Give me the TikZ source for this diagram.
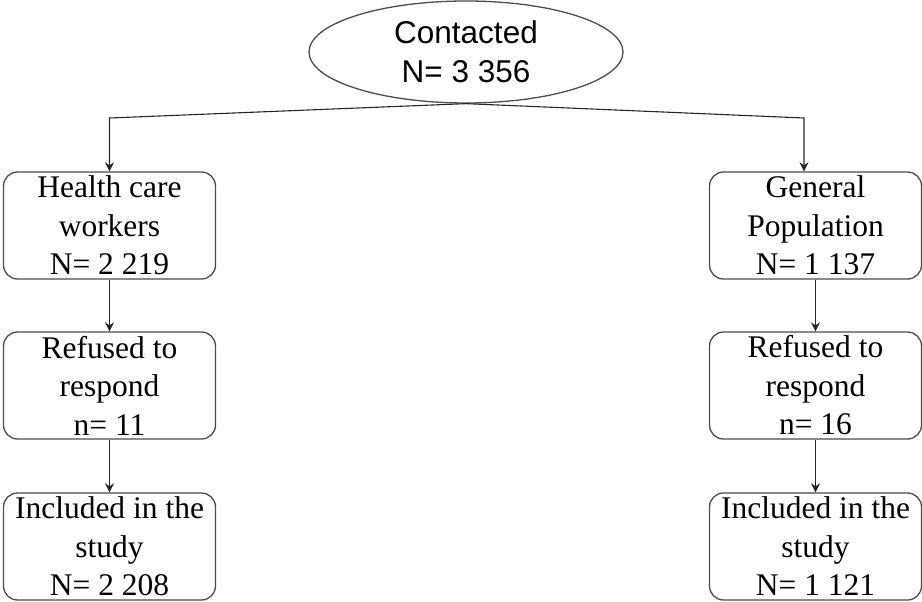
\documentclass[tikz,border=0pt]{standalone}
\usepackage{fontspec}
\setmainfont{Liberation Serif}
\newfontfamily\ellfont{Liberation Sans}
\usetikzlibrary{arrows.meta,shapes.geometric}
\begin{document}
\begin{tikzpicture}[x=1pt,y=-1pt,
  stepbox/.style={draw=black!70, line width=1.3pt, rounded corners=14pt, minimum width=212pt, minimum height=107pt, inner sep=0pt, align=center, font=\fontsize{31.5}{38.5}\selectfont},
  ovalbox/.style={ellipse, draw=black!70, line width=1.3pt, minimum width=314pt, minimum height=102pt, inner sep=0pt, align=center, font=\ellfont\fontsize{31.5}{39}\selectfont},
  conn/.style={draw=black!85, line width=1.1pt, -{Stealth[length=9pt,width=9pt]}}]
\useasboundingbox (0,0) rectangle (922,602);
\node[ovalbox] (con) at (466,52) {Contacted\\N= 3 356};
\node[stepbox] (hcw) at (109.5,225.5) {Health care\\workers\\N= 2 219};
\node[stepbox] (hcr) at (109.5,385.5) {Refused to\\respond\\n= 11};
\node[stepbox] (hci) at (109.5,546.5) {Included in the\\study\\N= 2 208};
\node[stepbox] (gp) at (815.5,225.5) {General\\Population\\N= 1 137};
\node[stepbox] (gpr) at (815.5,385.5) {Refused to\\respond\\n= 16};
\node[stepbox] (gpi) at (815.5,546.5) {Included in the\\study\\N= 1 121};
\coordinate (jl) at (109.5,118);
\coordinate (jr) at (804,118);
\draw[conn] (con.south) -- (jl) -- (hcw.north -| jl);
\draw[conn] (con.south) -- (jr) -- (gp.north -| jr);
\draw[conn] (hcw) -- (hcr);
\draw[conn] (hcr) -- (hci);
\draw[conn] (gp) -- (gpr);
\draw[conn] (gpr) -- (gpi);
\end{tikzpicture}
\end{document}
